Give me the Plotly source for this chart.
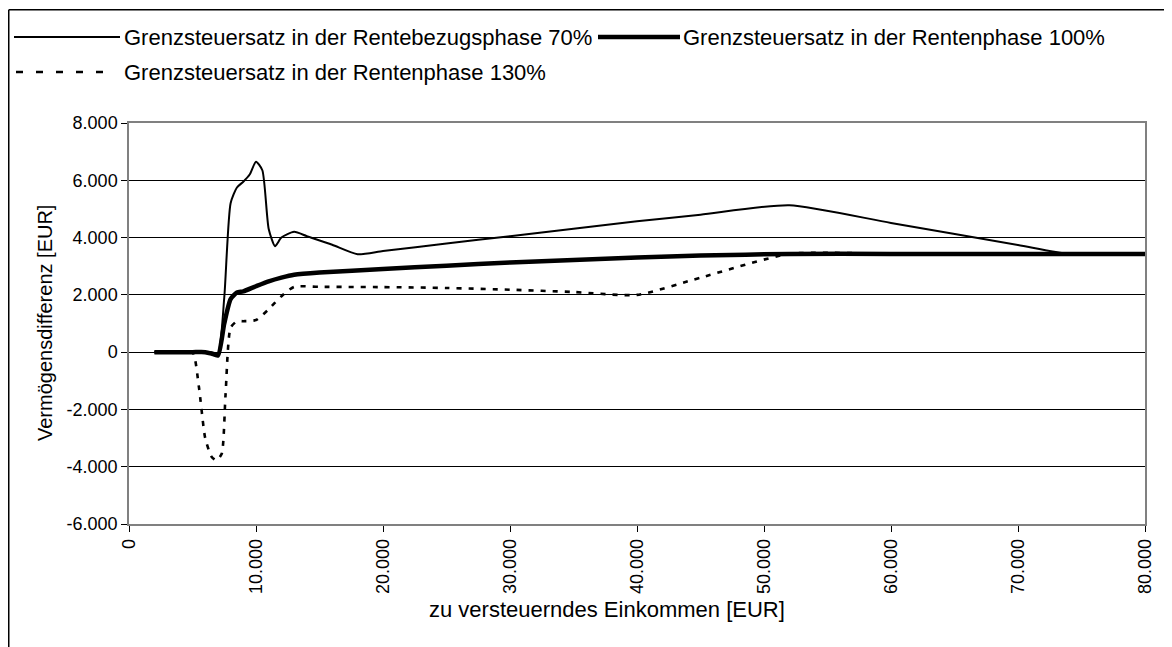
import plotly.graph_objects as go

# ---- data (x in EUR, y in EUR) ----
x_70 = [2000, 3000, 4000, 5000, 6000, 6500, 7000, 7500, 8000, 8500, 9000, 9500, 10000, 10500,
        11000, 11500, 12000, 13000, 14000, 16000, 18000, 20000, 25000, 30000, 35000, 40000,
        45000, 52000, 60000, 70000, 74000, 80000]
y_70 = [0, 0, 0, 0, 0, 0, -50, 1900, 5200, 5750, 5950, 6200, 6650, 6350,
        4300, 3700, 4000, 4200, 4050, 3750, 3420, 3530, 3790, 4050, 4310, 4570,
        4800, 5130, 4510, 3740, 3430, 3430]

x_100 = [2000, 3000, 4000, 5000, 6000, 6500, 7000, 7500, 8000, 8500, 9000, 10000, 11000, 12000,
         13000, 15000, 20000, 25000, 30000, 35000, 40000, 45000, 52000, 60000, 70000, 80000]
y_100 = [0, 0, 0, 0, 0, -50, -120, 1000, 1850, 2080, 2120, 2300, 2470, 2600,
         2700, 2780, 2900, 3020, 3130, 3220, 3300, 3370, 3430, 3430, 3430, 3430]

x_130 = [2000, 3000, 4000, 5000, 5500, 6000, 6500, 6900, 7300, 7600, 8000, 8500, 9000, 10000,
         11000, 12000, 13000, 15000, 20000, 25000, 30000, 35000, 40000, 45000, 52000, 60000, 70000, 80000]
y_130 = [0, 0, 0, 0, -1200, -3000, -3650, -3780, -3550, -1500, 850, 1080, 1080, 1120,
         1500, 1950, 2280, 2280, 2270, 2240, 2180, 2100, 2000, 2600, 3430, 3430, 3430, 3430]

names = ["Grenzsteuersatz in der Rentebezugsphase 70%",
         "Grenzsteuersatz in der Rentenphase 100%",
         "Grenzsteuersatz in der Rentenphase 130%"]

x_ticks = [0, 10000, 20000, 30000, 40000, 50000, 60000, 70000, 80000]
x_ticklabels = ["0", "10.000", "20.000", "30.000", "40.000", "50.000", "60.000", "70.000", "80.000"]
y_ticks = [-6000, -4000, -2000, 0, 2000, 4000, 6000, 8000]
y_ticklabels = ["-6.000", "-4.000", "-2.000", "0", "2.000", "4.000", "6.000", "8.000"]

x_title = "zu versteuerndes Einkommen [EUR]"
y_title = "Vermögensdifferenz [EUR]"

# ---- layout geometry (figure pixels; page adds an 8px body offset) ----
OFF = 8
W, H = 1172, 647
L, R, T, B = 121, 1137, 115, 516
FONT = "Liberation Sans, Arial, sans-serif"


def px(xs):
    """screen x pixel -> paper coordinate"""
    return (xs - OFF - L) / (R - L)


def py(ys):
    """screen y pixel -> paper coordinate"""
    return (B - (ys - OFF)) / (B - T)


fig = go.Figure()
fig.add_trace(go.Scatter(x=x_130, y=y_130, mode="lines", name=names[2], showlegend=False,
                         line=dict(color="black", width=2.6, dash="5px,7px", shape="spline", smoothing=0.6)))
fig.add_trace(go.Scatter(x=x_70, y=y_70, mode="lines", name=names[0], showlegend=False,
                         line=dict(color="black", width=2, shape="spline", smoothing=0.6)))
fig.add_trace(go.Scatter(x=x_100, y=y_100, mode="lines", name=names[1], showlegend=False,
                         line=dict(color="black", width=4.5, shape="spline", smoothing=0.6)))

shapes = []
annotations = []
# outer chart frame (left and top edges visible)
shapes.append(dict(type="line", xref="paper", yref="paper", x0=px(8.75), y0=py(9.75), x1=px(1200), y1=py(9.75),
                   line=dict(color="black", width=1.5)))
shapes.append(dict(type="line", xref="paper", yref="paper", x0=px(8.75), y0=py(9.75), x1=px(8.75), y1=py(700),
                   line=dict(color="black", width=1.5)))

# custom legend (long line samples as in the original)
leg = [
    (14, 120, 37, 2, None, 122, names[0]),
    (598, 680, 37, 4.5, None, 681, names[1]),
    (16, 110, 72, 2.6, "7px,13px", 122, names[2]),
]
for x0, x1, yy, w, dash, tx, label in leg:
    ln = dict(color="black", width=w)
    if dash:
        ln["dash"] = dash
    shapes.append(dict(type="line", xref="paper", yref="paper", x0=px(x0), x1=px(x1),
                       y0=py(yy), y1=py(yy), line=ln))
    annotations.append(dict(text=label, xref="paper", yref="paper", x=px(tx), y=py(yy),
                            xanchor="left", yanchor="middle", showarrow=False,
                            font=dict(family=FONT, size=22, color="black")))

# axis titles
annotations.append(dict(text=x_title, xref="paper", yref="paper", x=px(607), y=py(609),
                        xanchor="center", yanchor="middle", showarrow=False,
                        font=dict(family=FONT, size=22, color="black")))
annotations.append(dict(text=y_title, xref="paper", yref="paper", x=px(45), y=py(323),
                        xanchor="center", yanchor="middle", showarrow=False, textangle=-90,
                        font=dict(family=FONT, size=20, color="black")))

fig.update_layout(
    width=W, height=H,
    margin=dict(l=L, r=W - R, t=T, b=H - B),
    paper_bgcolor="white", plot_bgcolor="white",
    font=dict(family=FONT, size=18, color="black"),
    shapes=shapes, annotations=annotations,
    showlegend=False,
)
fig.update_xaxes(range=[0, 80000], tickvals=x_ticks, ticktext=x_ticklabels, tickangle=-90,
                 showgrid=False, zeroline=False, showline=True, linecolor="#808080", linewidth=1.5,
                 mirror=True, ticks="outside", ticklen=6, tickcolor="black",
                 tickfont=dict(size=18))
fig.update_yaxes(range=[-6000, 8000], tickvals=y_ticks, ticktext=y_ticklabels,
                 showgrid=True, gridcolor="black", gridwidth=1, zeroline=False,
                 showline=True, linecolor="#808080", linewidth=1.5, mirror=True,
                 ticks="outside", ticklen=6, tickcolor="black",
                 tickfont=dict(size=18))

fig.write_html("out.html")
